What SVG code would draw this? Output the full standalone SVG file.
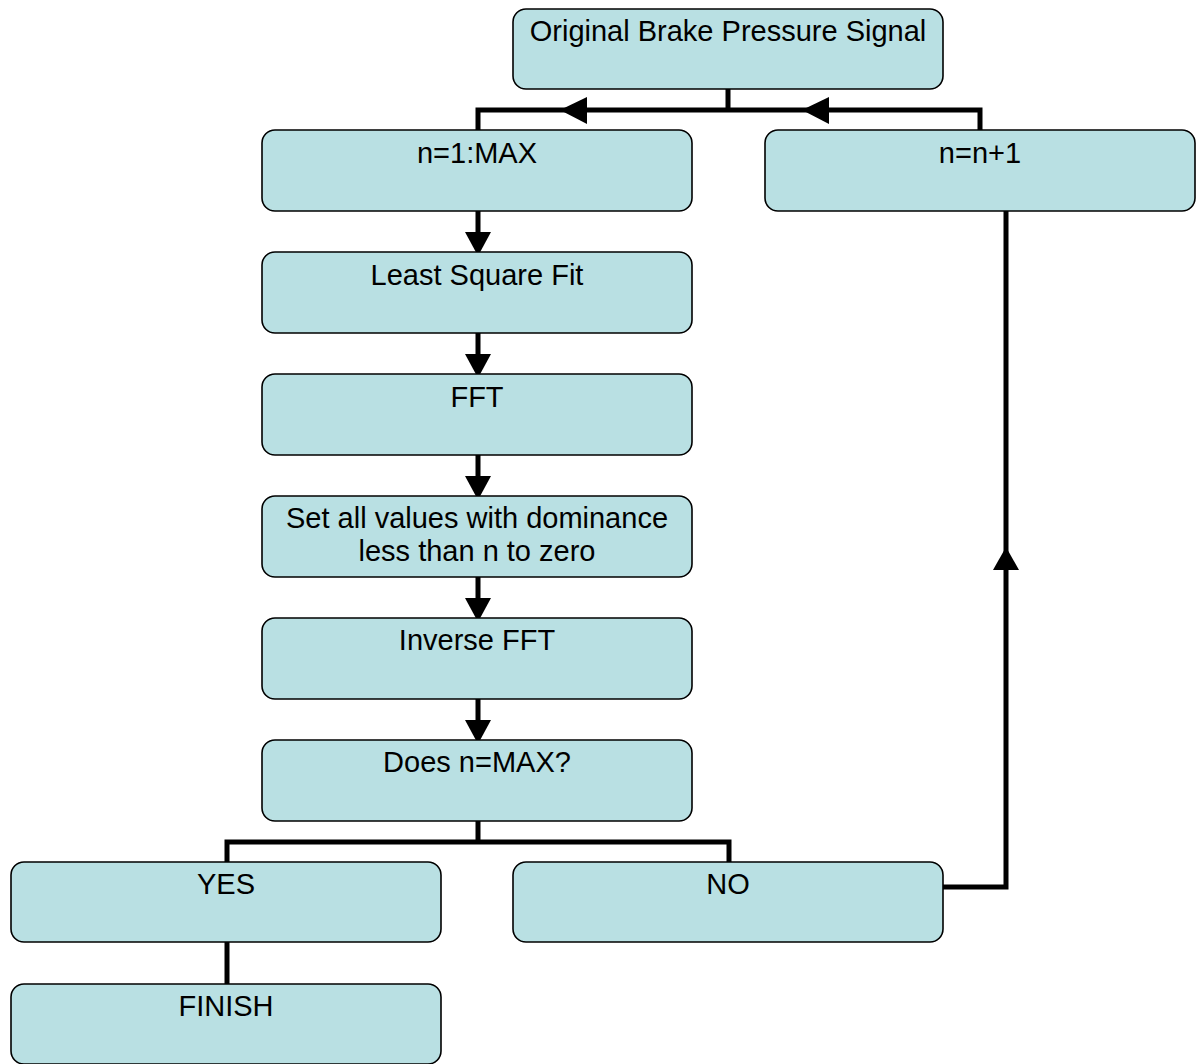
<svg xmlns="http://www.w3.org/2000/svg" width="1196" height="1064" viewBox="0 0 1196 1064">
<style>
.box{fill:#b9e0e3;stroke:#000;stroke-width:1.6}
.t{font-family:"Liberation Sans",Arial,sans-serif;font-size:29px;fill:#000;text-anchor:middle}
.c{fill:none;stroke:#000;stroke-width:5;stroke-linejoin:miter}
.ah{fill:#000}
</style>
<rect width="1196" height="1064" fill="#fff"/>
<g id="connectors">
<path class="c" d="M728,89 V110 M478,130 V110 H980 V130"/>
<polygon class="ah" points="560,110 587,97 587,124"/>
<polygon class="ah" points="802,110 829,97 829,124"/>
<path class="c" d="M478,211 V236 M478,333 V358 M478,455 V480 M478,577 V602 M478,699 V724"/>
<polygon class="ah" points="465,232 491,232 478,256"/>
<polygon class="ah" points="465,354 491,354 478,378"/>
<polygon class="ah" points="465,476 491,476 478,500"/>
<polygon class="ah" points="465,598 491,598 478,622"/>
<polygon class="ah" points="465,720 491,720 478,744"/>
<path class="c" d="M478,821 V842 M227,862 V842 H729 V862"/>
<path class="c" d="M227,942 V984"/>
<path class="c" d="M943,887 H1006 V211"/>
<polygon class="ah" points="1006,547 993,570 1019,570"/>
</g>
<g id="n_orig"><rect class="box" x="513" y="9" width="430" height="80" rx="13"/><text class="t" x="728" y="41">Original Brake Pressure Signal</text></g>
<g id="n_loop"><rect class="box" x="262" y="130" width="430" height="81" rx="13"/><text class="t" x="477" y="163">n=1:MAX</text></g>
<g id="n_inc"><rect class="box" x="765" y="130" width="430" height="81" rx="13"/><text class="t" x="980" y="163">n=n+1</text></g>
<g id="n_lsf"><rect class="box" x="262" y="252" width="430" height="81" rx="13"/><text class="t" x="477" y="285">Least Square Fit</text></g>
<g id="n_fft"><rect class="box" x="262" y="374" width="430" height="81" rx="13"/><text class="t" x="477" y="407">FFT</text></g>
<g id="n_set"><rect class="box" x="262" y="496" width="430" height="81" rx="13"/><text class="t" x="477" y="528">Set all values with dominance</text><text class="t" x="477" y="561">less than n to zero</text></g>
<g id="n_ifft"><rect class="box" x="262" y="618" width="430" height="81" rx="13"/><text class="t" x="477" y="650">Inverse FFT</text></g>
<g id="n_does"><rect class="box" x="262" y="740" width="430" height="81" rx="13"/><text class="t" x="477" y="772">Does n=MAX?</text></g>
<g id="n_yes"><rect class="box" x="11" y="862" width="430" height="80" rx="13"/><text class="t" x="226" y="894">YES</text></g>
<g id="n_no"><rect class="box" x="513" y="862" width="430" height="80" rx="13"/><text class="t" x="728" y="894">NO</text></g>
<g id="n_finish"><rect class="box" x="11" y="984" width="430" height="80" rx="13"/><text class="t" x="226" y="1016">FINISH</text></g>
</svg>
